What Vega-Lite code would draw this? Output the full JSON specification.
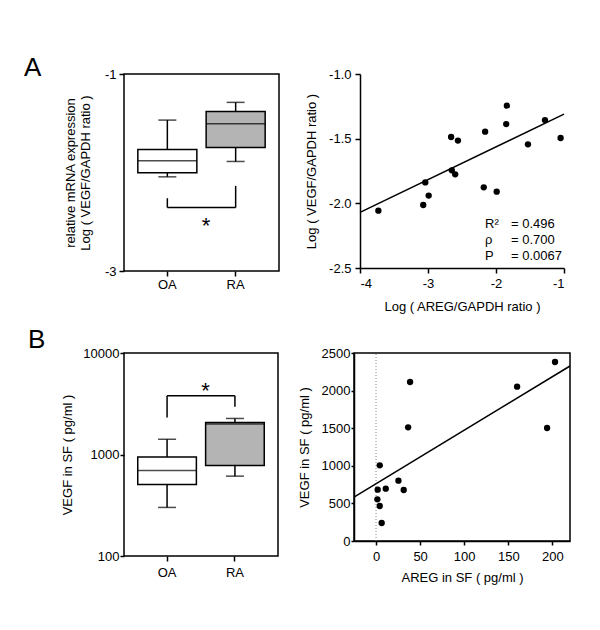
{
  "$schema": "https://vega.github.io/schema/vega-lite/v6.json",
  "padding": {"left": 23, "top": 54, "right": 5, "bottom": 5},
  "spacing": 13,
  "config": {
    "font": "Liberation Sans",
    "locale": {"number": {"decimal": ".", "thousands": ",", "grouping": [3], "currency": ["$", ""], "minus": "-"}},
    "axis": {"labelFont": "Liberation Sans", "labelFontSize": 13, "labelColor": "black", "titleFont": "Liberation Sans", "titleFontSize": 13, "titleFontWeight": "normal", "titleColor": "black", "domainColor": "black", "tickColor": "black", "grid": false, "tickSize": 5, "domainWidth": 1.5, "tickWidth": 1.5, "labelAngle": 0, "labelOverlap": false},
    "view": {"stroke": "black", "strokeWidth": 1.5},
    "title": {"font": "Liberation Sans", "fontSize": 26, "fontWeight": "normal", "color": "black", "anchor": "start", "frame": "group", "offset": 0, "baseline": "alphabetic"}
  },
  "datasets": {
    "boxA": [
      {"grp": "OA", "min": -2.044, "q1": -2.003, "med": -1.881, "q3": -1.766, "max": -1.468},
      {"grp": "RA", "min": -1.888, "q1": -1.746, "med": -1.505, "q3": -1.38, "max": -1.288}
    ],
    "bracketA": [
      {"grp": "OA", "top": -2.261, "bar": -2.356},
      {"grp": "RA", "top": -2.136, "bar": -2.356}
    ],
    "bracketAh": [{"from": "OA", "to": "RA", "bar": -2.356}],
    "boxB": [
      {"grp": "OA", "min": 301, "q1": 506, "med": 697, "q3": 944, "max": 1413},
      {"grp": "RA", "min": 612, "q1": 781, "med": 1995, "q3": 2070, "max": 2265}
    ],
    "bracketB": [
      {"grp": "OA", "top": 2318, "bar": 3800},
      {"grp": "RA", "top": 2958, "bar": 3800}
    ],
    "bracketBh": [{"from": "OA", "to": "RA", "bar": 3800}],
    "scatA": [
      {"areg": -3.73, "vegf": -2.057},
      {"areg": -3.07, "vegf": -2.013},
      {"areg": -3.04, "vegf": -1.838},
      {"areg": -2.99, "vegf": -1.94},
      {"areg": -2.66, "vegf": -1.487},
      {"areg": -2.56, "vegf": -1.515},
      {"areg": -2.65, "vegf": -1.745},
      {"areg": -2.6, "vegf": -1.776},
      {"areg": -2.16, "vegf": -1.446},
      {"areg": -2.18, "vegf": -1.876},
      {"areg": -1.99, "vegf": -1.91},
      {"areg": -1.84, "vegf": -1.245},
      {"areg": -1.85, "vegf": -1.387},
      {"areg": -1.53, "vegf": -1.544},
      {"areg": -1.28, "vegf": -1.356},
      {"areg": -1.05, "vegf": -1.495}
    ],
    "fitA": [{"areg": -4, "vegf": -2.07}, {"areg": -1, "vegf": -1.31}],
    "scatB": [
      {"areg": 203, "vegf": 2380},
      {"areg": 160, "vegf": 2052},
      {"areg": 194, "vegf": 1503},
      {"areg": 38.6, "vegf": 2114},
      {"areg": 36.4, "vegf": 1512},
      {"areg": 4.2, "vegf": 1006},
      {"areg": 25.4, "vegf": 802},
      {"areg": 31.4, "vegf": 678},
      {"areg": 11, "vegf": 696},
      {"areg": 1.9, "vegf": 683},
      {"areg": 1.5, "vegf": 554},
      {"areg": 4.2, "vegf": 465},
      {"areg": 6.4, "vegf": 239}
    ],
    "fitB": [{"areg": -25, "vegf": 585}, {"areg": 220, "vegf": 2327}],
    "zeroB": [{"areg": 0, "vegf": 0}, {"areg": 0, "vegf": 2500}]
  },
  "vconcat": [
    {
      "hconcat": [
        {
          "width": 155, "height": 197,
          "title": {"text": "A", "dx": -100, "dy": 17},
          "encoding": {
            "x": {"field": "grp", "type": "nominal", "scale": {"paddingInner": 0.136, "paddingOuter": 0.2025}, "axis": {"title": null, "labelPadding": 2, "domain": false}}
          },
          "layer": [
            {"data": {"name": "boxA"}, "mark": {"type": "rule", "color": "black", "strokeWidth": 1.5},
             "encoding": {"y": {"field": "min", "type": "quantitative", "scale": {"domain": [-3, -1], "nice": false, "zero": false}, "axis": {"values": [-3, -2, -1], "format": "d", "labelPadding": 3, "domain": false, "titlePadding": 12, "titleLineHeight": 15, "title": ["relative mRNA expression", "Log ( VEGF/GAPDH ratio )"]}}, "y2": {"field": "max"}}},
            {"data": {"name": "boxA"}, "mark": {"type": "bar", "stroke": "black", "strokeWidth": 1.5},
             "encoding": {"y": {"field": "q1", "type": "quantitative"}, "y2": {"field": "q3"}, "fill": {"field": "grp", "type": "nominal", "scale": {"range": ["#ffffff", "#b4b4b4"]}, "legend": null}}},
            {"data": {"name": "boxA"}, "mark": {"type": "tick", "color": "black", "thickness": 1.5},
             "encoding": {"y": {"field": "med", "type": "quantitative"}, "size": {"value": 59}}},
            {"data": {"name": "boxA"}, "mark": {"type": "tick", "color": "black", "thickness": 1.5},
             "encoding": {"y": {"field": "min", "type": "quantitative"}, "size": {"value": 18}}},
            {"data": {"name": "boxA"}, "mark": {"type": "tick", "color": "black", "thickness": 1.5},
             "encoding": {"y": {"field": "max", "type": "quantitative"}, "size": {"value": 18}}},
            {"data": {"name": "bracketA"}, "mark": {"type": "rule", "color": "black", "strokeWidth": 1.5},
             "encoding": {"y": {"field": "top", "type": "quantitative"}, "y2": {"field": "bar"}}},
            {"data": {"name": "bracketAh"}, "mark": {"type": "rule", "color": "black", "strokeWidth": 1.5},
             "encoding": {"x": {"field": "from", "type": "nominal"}, "x2": {"field": "to"}, "y": {"field": "bar", "type": "quantitative"}}},
            {"data": {"name": "bracketAh"}, "mark": {"type": "text", "text": "*", "fontSize": 22, "baseline": "alphabetic", "align": "center", "font": "Liberation Sans"},
             "encoding": {"x": {"datum": "RA", "bandPosition": 0}, "y": {"datum": -2.61}}}
          ]
        },
        {
          "width": 204, "height": 194,
          "view": {"stroke": null},
          "layer": [
            {"data": {"name": "fitA"}, "mark": {"type": "line", "color": "black", "strokeWidth": 1.5},
             "encoding": {
               "x": {"field": "areg", "type": "quantitative", "scale": {"domain": [-4, -1], "nice": false, "zero": false}, "axis": {"values": [-4, -3, -2, -1], "format": "d", "labelPadding": 4, "titlePadding": 10, "title": "Log ( AREG/GAPDH ratio )"}},
               "y": {"field": "vegf", "type": "quantitative", "scale": {"domain": [-2.5, -1], "nice": false, "zero": false}, "axis": {"values": [-2.5, -2, -1.5, -1], "format": ".1f", "labelPadding": 4, "titlePadding": 10, "title": "Log ( VEGF/GAPDH ratio )"}}
             }},
            {"data": {"name": "scatA"}, "mark": {"type": "point", "filled": true, "color": "black", "opacity": 1, "size": 40},
             "encoding": {"x": {"field": "areg", "type": "quantitative"}, "y": {"field": "vegf", "type": "quantitative"}}},
            {"data": {"values": [{}]}, "mark": {"type": "text", "align": "left", "baseline": "middle", "fontSize": 13, "lineHeight": 16, "font": "Liberation Sans", "text": ["R²", "ρ", "P"]},
             "encoding": {"x": {"datum": -2.16}, "y": {"datum": -2.16}}},
            {"data": {"values": [{}]}, "mark": {"type": "text", "align": "left", "baseline": "middle", "fontSize": 13, "lineHeight": 16, "font": "Liberation Sans", "text": ["= 0.496", "= 0.700", "= 0.0067"]},
             "encoding": {"x": {"datum": -1.78}, "y": {"datum": -2.16}}}
          ]
        }
      ],
      "spacing": 81,
      "bounds": "flush"
    },
    {
      "hconcat": [
        {
          "width": 154, "height": 203,
          "title": {"text": "B", "dx": -96, "dy": 10},
          "encoding": {
            "x": {"field": "grp", "type": "nominal", "scale": {"paddingInner": 0.136, "paddingOuter": 0.2025}, "axis": {"title": null, "labelPadding": 5, "domain": false}}
          },
          "layer": [
            {"data": {"name": "boxB"}, "mark": {"type": "rule", "color": "black", "strokeWidth": 1.5},
             "encoding": {"y": {"field": "min", "type": "quantitative", "scale": {"type": "log", "domain": [100, 10000], "nice": false}, "axis": {"values": [100, 1000, 10000], "format": "d", "tickSize": 4, "labelPadding": 1, "domain": false, "titlePadding": 8, "title": "VEGF in SF ( pg/ml )"}}, "y2": {"field": "max"}}},
            {"data": {"name": "boxB"}, "mark": {"type": "bar", "stroke": "black", "strokeWidth": 1.5},
             "encoding": {"y": {"field": "q1", "type": "quantitative"}, "y2": {"field": "q3"}, "fill": {"field": "grp", "type": "nominal", "scale": {"range": ["#ffffff", "#b4b4b4"]}, "legend": null}}},
            {"data": {"name": "boxB"}, "mark": {"type": "tick", "color": "black", "thickness": 1.5},
             "encoding": {"y": {"field": "med", "type": "quantitative"}, "size": {"value": 59}}},
            {"data": {"name": "boxB"}, "mark": {"type": "tick", "color": "black", "thickness": 1.5},
             "encoding": {"y": {"field": "min", "type": "quantitative"}, "size": {"value": 18}}},
            {"data": {"name": "boxB"}, "mark": {"type": "tick", "color": "black", "thickness": 1.5},
             "encoding": {"y": {"field": "max", "type": "quantitative"}, "size": {"value": 18}}},
            {"data": {"name": "bracketB"}, "mark": {"type": "rule", "color": "black", "strokeWidth": 1.5},
             "encoding": {"y": {"field": "top", "type": "quantitative"}, "y2": {"field": "bar"}}},
            {"data": {"name": "bracketBh"}, "mark": {"type": "rule", "color": "black", "strokeWidth": 1.5},
             "encoding": {"x": {"field": "from", "type": "nominal"}, "x2": {"field": "to"}, "y": {"field": "bar", "type": "quantitative"}}},
            {"data": {"name": "bracketBh"}, "mark": {"type": "text", "text": "*", "fontSize": 22, "baseline": "alphabetic", "align": "center", "font": "Liberation Sans"},
             "encoding": {"x": {"datum": "RA", "bandPosition": 0}, "y": {"datum": 3614}}}
          ]
        },
        {
          "width": 216, "height": 188,
          "encoding": {
            "x": {"field": "areg", "type": "quantitative", "scale": {"domain": [-25, 220], "nice": false, "zero": false}, "axis": {"values": [0, 50, 100, 150, 200], "format": "d", "tickSize": 4, "labelPadding": 5, "titlePadding": 8, "title": "AREG in SF ( pg/ml )"}},
            "y": {"field": "vegf", "type": "quantitative", "scale": {"domain": [0, 2500], "nice": false, "zero": false}, "axis": {"values": [0, 500, 1000, 1500, 2000, 2500], "tickCount": 6, "format": "d", "labelOverlap": false, "tickSize": 3, "labelPadding": 1, "titlePadding": 10, "title": "VEGF in SF ( pg/ml )"}}
          },
          "layer": [
            {"data": {"name": "zeroB"}, "mark": {"type": "line", "color": "#888888", "strokeWidth": 1, "strokeDash": [1, 2]}},
            {"data": {"name": "scatB"}, "mark": {"type": "point", "filled": true, "color": "black", "opacity": 1, "size": 40}},
            {"data": {"name": "fitB"}, "mark": {"type": "line", "color": "black", "strokeWidth": 1.5, "clip": true}},
            {"data": {"values": [{}]}, "mark": {"type": "text", "align": "left", "baseline": "middle", "fontSize": 13, "lineHeight": 16, "font": "Liberation Sans", "text": ["R²", "ρ", "P"]},
             "encoding": {"x": {"datum": 122.4}, "y": {"datum": 651}}},
            {"data": {"values": [{}]}, "mark": {"type": "text", "align": "left", "baseline": "middle", "fontSize": 13, "lineHeight": 16, "font": "Liberation Sans", "text": ["= 0.577", "= 0.772", "= 0.0075"]},
             "encoding": {"x": {"datum": 149.7}, "y": {"datum": 651}}}
          ]
        }
      ],
      "spacing": 76,
      "bounds": "flush"
    }
  ]
}
